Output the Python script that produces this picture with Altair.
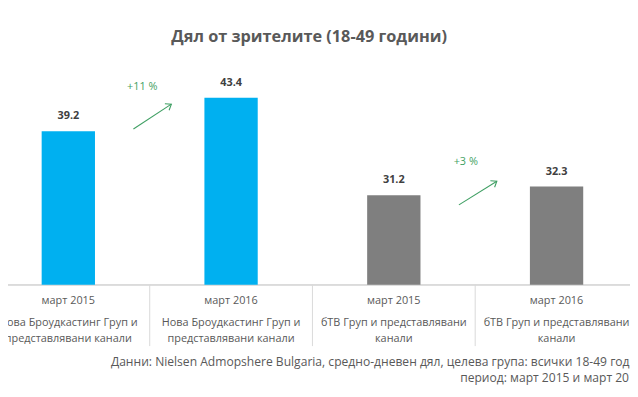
import altair as alt
import pandas as pd

# ---- data ----
periods = ["март 2015", "март 2016", "март 2015", "март 2016"]
group_line1 = ["Нова Броудкастинг Груп и", "Нова Броудкастинг Груп и",
               "бТВ Груп и представлявани", "бТВ Груп и представлявани"]
group_line2 = ["представлявани канали", "представлявани канали", "канали", "канали"]
values = [39.2, 43.4, 31.2, 32.3]
bar_colors = ["#00b0f0", "#00b0f0", "#7f7f7f", "#7f7f7f"]
axis_base = 20

change_labels = ["+11 %", "+3 %"]
change_text_x = [0.454, 2.442]
change_text_y = [44.8, 35.3]
arrow_x0 = [0.40, 2.40]
arrow_y0 = [39.5, 30.0]
arrow_x1 = [0.633, 2.633]
arrow_y1 = [42.6, 32.96]

title_text = "Дял от зрителите (18-49 години)"
source_line1 = "Данни: Nielsen Admopshere Bulgaria, средно-дневен дял, целева група: всички 18-49 години,"
source_line2 = "период: март 2015 и март 2016"

# ---- tables ----
bars = pd.DataFrame({"i": list(range(len(values))), "v": values, "c": bar_colors,
                     "b": [axis_base] * len(values),
                     "p": periods, "g1": group_line1, "g2": group_line2})
seps = pd.DataFrame({"i": [k + 0.5 for k in range(len(values) - 1)],
                     "b": [axis_base] * (len(values) - 1)})
ann = pd.DataFrame({"lab": change_labels, "tx": change_text_x, "ty": change_text_y,
                    "x0": arrow_x0, "y0": arrow_y0, "x1": arrow_x1, "y1": arrow_y1})
texts = pd.DataFrame({"t": [title_text], "s1": [source_line1], "s2": [source_line2]})

W, H = 630, 378
xs = alt.Scale(domain=[-57 / 167.5, (W - 57) / 167.5], nice=False, zero=False)
ys = alt.Scale(domain=[20 - (H - 278) / 8.1, 20 + 278 / 8.1], nice=False, zero=False)
GRID = "#d9d9d9"
TXT = "#595959"
GREEN = "#3f9f63"
FONT = "Open Sans"

X = lambda f: alt.X(f, scale=xs, axis=None)
Y = lambda f: alt.Y(f, scale=ys, axis=None)

base = alt.Chart(bars)

bar_layer = base.mark_bar(size=54).encode(
    x=X("i:Q"), y=Y("v:Q"), y2="b:Q",
    color=alt.Color("c:N", scale=None),
)

value_labels = base.mark_text(dy=-15, font=FONT, fontSize=11, fontWeight="bold",
                              color="#404040").encode(
    x=X("i:Q"), y=Y("v:Q"), text=alt.Text("v:Q", format=".1f"),
)

baseline = base.mark_rule(color=GRID, strokeWidth=1).encode(
    y=Y("b:Q"), x=alt.value(0), x2=alt.value(W),
)

sep_layer = alt.Chart(seps).mark_rule(color=GRID, strokeWidth=1).encode(
    x=X("i:Q"), y=Y("b:Q"), y2=alt.value(340),
)

LBL = dict(font=FONT, fontSize=11, color=TXT, baseline="middle")
period_labels = base.mark_text(**LBL).encode(x=X("i:Q"), y=alt.value(294), text="p:N")
g1_labels = base.mark_text(**LBL).encode(x=X("i:Q"), y=alt.value(317), text="g1:N")
g2_labels = base.mark_text(**LBL).encode(x=X("i:Q"), y=alt.value(333), text="g2:N")

abase = alt.Chart(ann)
arrow_lines = abase.mark_rule(color=GREEN, strokeWidth=1.1).encode(
    x=X("x0:Q"), y=Y("y0:Q"), x2="x1:Q", y2="y1:Q",
)
arrow_heads = abase.mark_point(shape="M-1,-0.75L0,0L-1,0.75", size=110, filled=False,
                               color=GREEN, strokeWidth=1.1, angle=327, opacity=1).encode(
    x=X("x1:Q"), y=Y("y1:Q"),
)
change_text = abase.mark_text(font=FONT, fontSize=11, color=GREEN, baseline="middle").encode(
    x=X("tx:Q"), y=Y("ty:Q"), text="lab:N",
)

tbase = alt.Chart(texts)
title = tbase.mark_text(font=FONT, fontSize=16.5, fontWeight="bold", color=TXT,
                        baseline="middle").encode(
    x=alt.value(305), y=alt.value(27), text="t:N")
SRC = dict(font=FONT, fontSize=12.25, color=TXT, align="right", baseline="middle")
source1 = tbase.mark_text(**SRC).encode(x=alt.value(656), y=alt.value(356), text="s1:N")
source2 = tbase.mark_text(**SRC).encode(x=alt.value(643), y=alt.value(372), text="s2:N")

chart = alt.layer(
    baseline, sep_layer, bar_layer, value_labels, period_labels, g1_labels, g2_labels,
    arrow_lines, arrow_heads, change_text, title, source1, source2,
).properties(
    width=W, height=H, autosize=alt.AutoSizeParams(type="none"), padding=0,
).configure_view(stroke=None)

chart.save("out.html", embed_options={"renderer": "svg", "actions": False})
